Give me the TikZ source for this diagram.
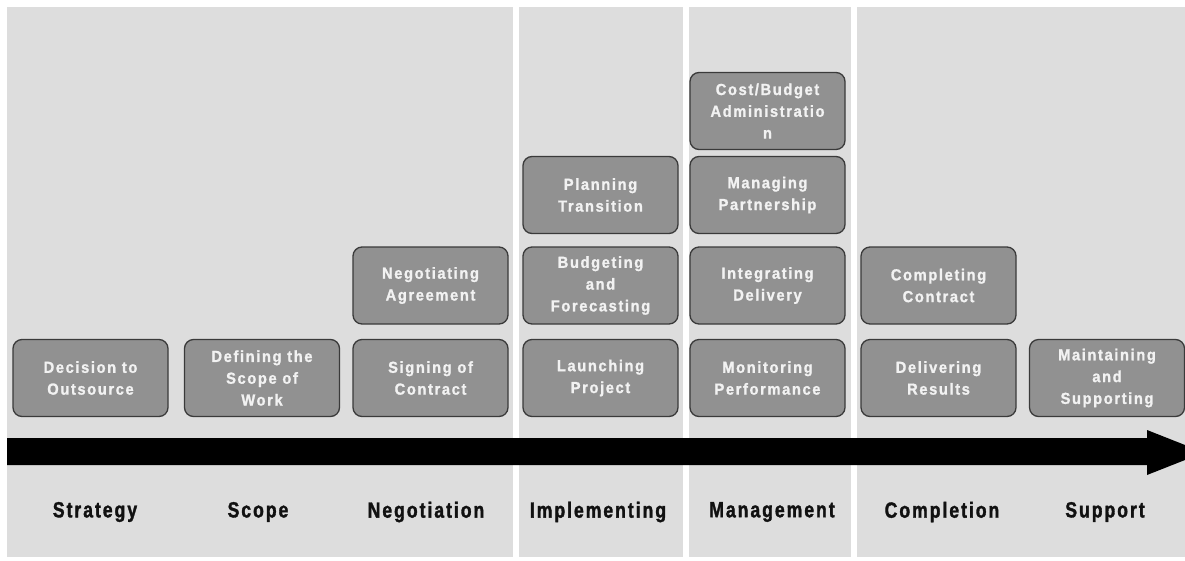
\documentclass[tikz,border=0pt]{standalone}
\usepackage{fontspec}
\newfontfamily\boxtextfont[FakeStretch=0.92,LetterSpace=10,FakeBold=1.2]{Liberation Sans}
\newfontfamily\phasefont[FakeStretch=0.8,LetterSpace=9,FakeBold=1.5]{Liberation Sans}
\definecolor{panelgray}{HTML}{DDDDDD}
\definecolor{boxgray}{HTML}{919191}
\definecolor{boxedge}{HTML}{3A3A3A}
\definecolor{boxtext}{HTML}{F2F2F2}
\definecolor{labeltext}{HTML}{111111}
\begin{document}
\begin{tikzpicture}[x=1pt,y=-1pt,
  panel/.style={fill=panelgray,draw=none},
  stagebox/.style={rectangle,rounded corners=9pt,minimum width=155pt,minimum height=77pt,
    fill=boxgray,draw=boxedge,line width=1.3pt,text=boxtext,align=center,inner sep=0pt,
    font=\boxtextfont\bfseries\fontsize{16}{21.8}\selectfont},
  phase/.style={text=labeltext,inner sep=0pt,
    font=\phasefont\bfseries\fontsize{22}{24}\selectfont}]
\useasboundingbox (0,0) rectangle (1185,560);
\begin{scope}
\clip (0,0) rectangle (1185,560);
% phase panels
\fill[panel] (7,7) rectangle (513,557);
\fill[panel] (519,7) rectangle (683,557);
\fill[panel] (689,7) rectangle (851,557);
\fill[panel] (857,7) rectangle (1185,557);
% timeline arrow
\fill[black] (7,438) -- (1147,438) -- (1147,430) -- (1204,452.5) -- (1147,475) -- (1147,465) -- (7,465) -- cycle;
\end{scope}
% activity boxes, bottom row
\node[stagebox] (decision) at (90.5,378) {Decision to\\Outsource};
\node[stagebox] (defining) at (262,378) {Defining the\\Scope of\\Work};
\node[stagebox] (signing) at (430.5,378) {Signing of\\Contract};
\node[stagebox] (launching) at (600.5,378) {Launching\\Project};
\node[stagebox] (monitoring) at (767.5,378) {Monitoring\\Performance};
\node[stagebox] (delivering) at (938.5,378) {Delivering\\Results};
\node[stagebox] (maintaining) at (1107,378) {Maintaining\\and\\Supporting};
% second row
\node[stagebox] (negotiating) at (430.5,285.5) {Negotiating\\Agreement};
\node[stagebox] (budgeting) at (600.5,285.5) {Budgeting\\and\\Forecasting};
\node[stagebox] (integrating) at (767.5,285.5) {Integrating\\Delivery};
\node[stagebox] (completing) at (938.5,285.5) {Completing\\Contract};
% third row
\node[stagebox] (planning) at (600.5,195) {Planning\\Transition};
\node[stagebox] (managing) at (767.5,195) {Managing\\Partnership};
% top row
\node[stagebox] (cost) at (767.5,111) {Cost/Budget\\Administratio\\n};
% phase labels
\node[phase] (strategy) at (95,512) {Strategy};
\node[phase] (scope) at (258,512) {Scope};
\node[phase] (negotiation) at (426,512) {Negotiation};
\node[phase] (implementing) at (598,512) {Implementing};
\node[phase] (management) at (772,512) {Management};
\node[phase] (completion) at (942,512) {Completion};
\node[phase] (support) at (1105,512) {Support};
\end{tikzpicture}
\end{document}
